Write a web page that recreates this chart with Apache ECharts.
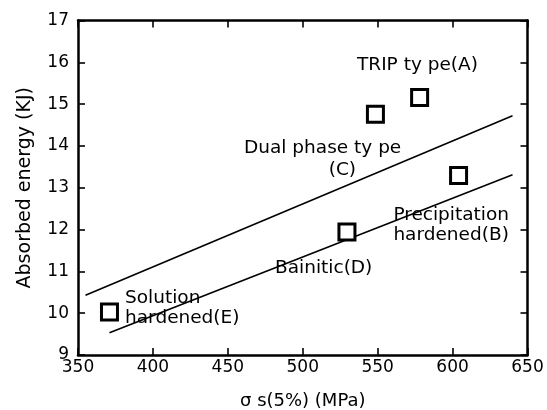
<!DOCTYPE html>
<html>
<head>
<meta charset="utf-8">
<script src="https://cdn.jsdelivr.net/npm/echarts@6/dist/echarts.min.js"></script>
<style>
  html, body { margin: 0; padding: 0; background: #fff; }
  #chart { width: 547px; height: 410px; }
</style>
</head>
<body>
<div id="chart"></div>
<script>
// measured points [σs(5%) MPa, absorbed energy KJ]
const steelNames = ['Solution hardened(E)', 'Bainitic(D)', 'Dual phase type(C)', 'TRIP type(A)', 'Precipitation hardened(B)'];
const steelPoints = [[371, 10.03], [529.5, 11.94], [548.5, 14.76], [578, 15.16], [604, 13.29]];

// the two trend lines
const upperLine = [[355, 10.43], [640, 14.72]];
const lowerLine = [[371, 9.53], [640, 13.31]];

// axis ranges / ticks
const xTicks = [350, 400, 450, 500, 550, 600, 650];
const yTicks = [9, 10, 11, 12, 13, 14, 15, 16, 17];

// text notes, anchored at left-middle in data units
const noteText = ['TRIP ty pe(A)', 'Dual phase ty pe', '(C)', 'Precipitation\nhardened(B)', 'Bainitic(D)', 'Solution\nhardened(E)'];
const noteAt = [[536.2, 15.92], [460.8, 13.95], [517.3, 13.43], [560.5, 12.10], [481.5, 11.07], [381.4, 10.13]];

const FONT = 'DejaVu Sans';

let chart = echarts.init(document.getElementById('chart'), null, { renderer: 'canvas' });

const axisBase = {
  axisLine: { show: true, onZero: false, lineStyle: { color: '#000', width: 2.5 } },
  axisTick: { show: true, inside: true, length: 7, lineStyle: { color: '#000', width: 1.6 } },
  splitLine: { show: false }
};

chart.setOption({
  animation: false,
  backgroundColor: '#fff',
  grid: { left: 78, right: 19.5, top: 20.5, bottom: 55, outerBoundsMode: 'none', containLabel: false },
  xAxis: [
    Object.assign({}, axisBase, {
      type: 'value', min: xTicks[0], max: xTicks[xTicks.length - 1], interval: 50,
      name: 'σ s(5%) (MPa)', nameLocation: 'middle', nameGap: 37,
      nameTextStyle: { fontFamily: FONT, fontSize: 18, color: '#000' },
      axisLabel: { fontFamily: FONT, fontSize: 17, color: '#000', margin: 4 }
    }),
    Object.assign({}, axisBase, {
      type: 'value', position: 'top', min: xTicks[0], max: xTicks[xTicks.length - 1], interval: 50,
      axisLabel: { show: false }
    })
  ],
  yAxis: [
    Object.assign({}, axisBase, {
      type: 'value', min: yTicks[0], max: yTicks[yTicks.length - 1], interval: 1,
      name: 'Absorbed energy (KJ)', nameLocation: 'middle', nameGap: 43,
      nameTextStyle: { fontFamily: FONT, fontSize: 19, color: '#000' },
      axisLabel: { fontFamily: FONT, fontSize: 17, color: '#000', margin: 9 }
    }),
    Object.assign({}, axisBase, {
      type: 'value', position: 'right', min: yTicks[0], max: yTicks[yTicks.length - 1], interval: 1,
      axisLabel: { show: false }
    })
  ],
  series: [
    {
      type: 'line', data: upperLine, symbol: 'none',
      lineStyle: { color: '#000', width: 1.6 }, z: 2
    },
    {
      type: 'line', data: lowerLine, symbol: 'none',
      lineStyle: { color: '#000', width: 1.6 }, z: 2
    },
    {
      type: 'scatter',
      data: steelPoints.map((p, i) => ({ name: steelNames[i], value: p })),
      symbol: 'rect', symbolSize: 16,
      itemStyle: { color: '#fff', borderColor: '#000', borderWidth: 3, opacity: 1 },
      z: 3
    },
    {
      type: 'scatter',
      data: noteAt.map((p, i) => ({ value: p, label: { formatter: noteText[i] } })),
      symbolSize: 0,
      itemStyle: { opacity: 1 },
      label: {
        show: true, position: 'right', distance: 0,
        align: 'left', verticalAlign: 'middle',
        fontFamily: FONT, fontSize: 18.5, lineHeight: 20, color: '#000'
      },
      silent: true,
      z: 4
    }
  ]
});
</script>
</body>
</html>
